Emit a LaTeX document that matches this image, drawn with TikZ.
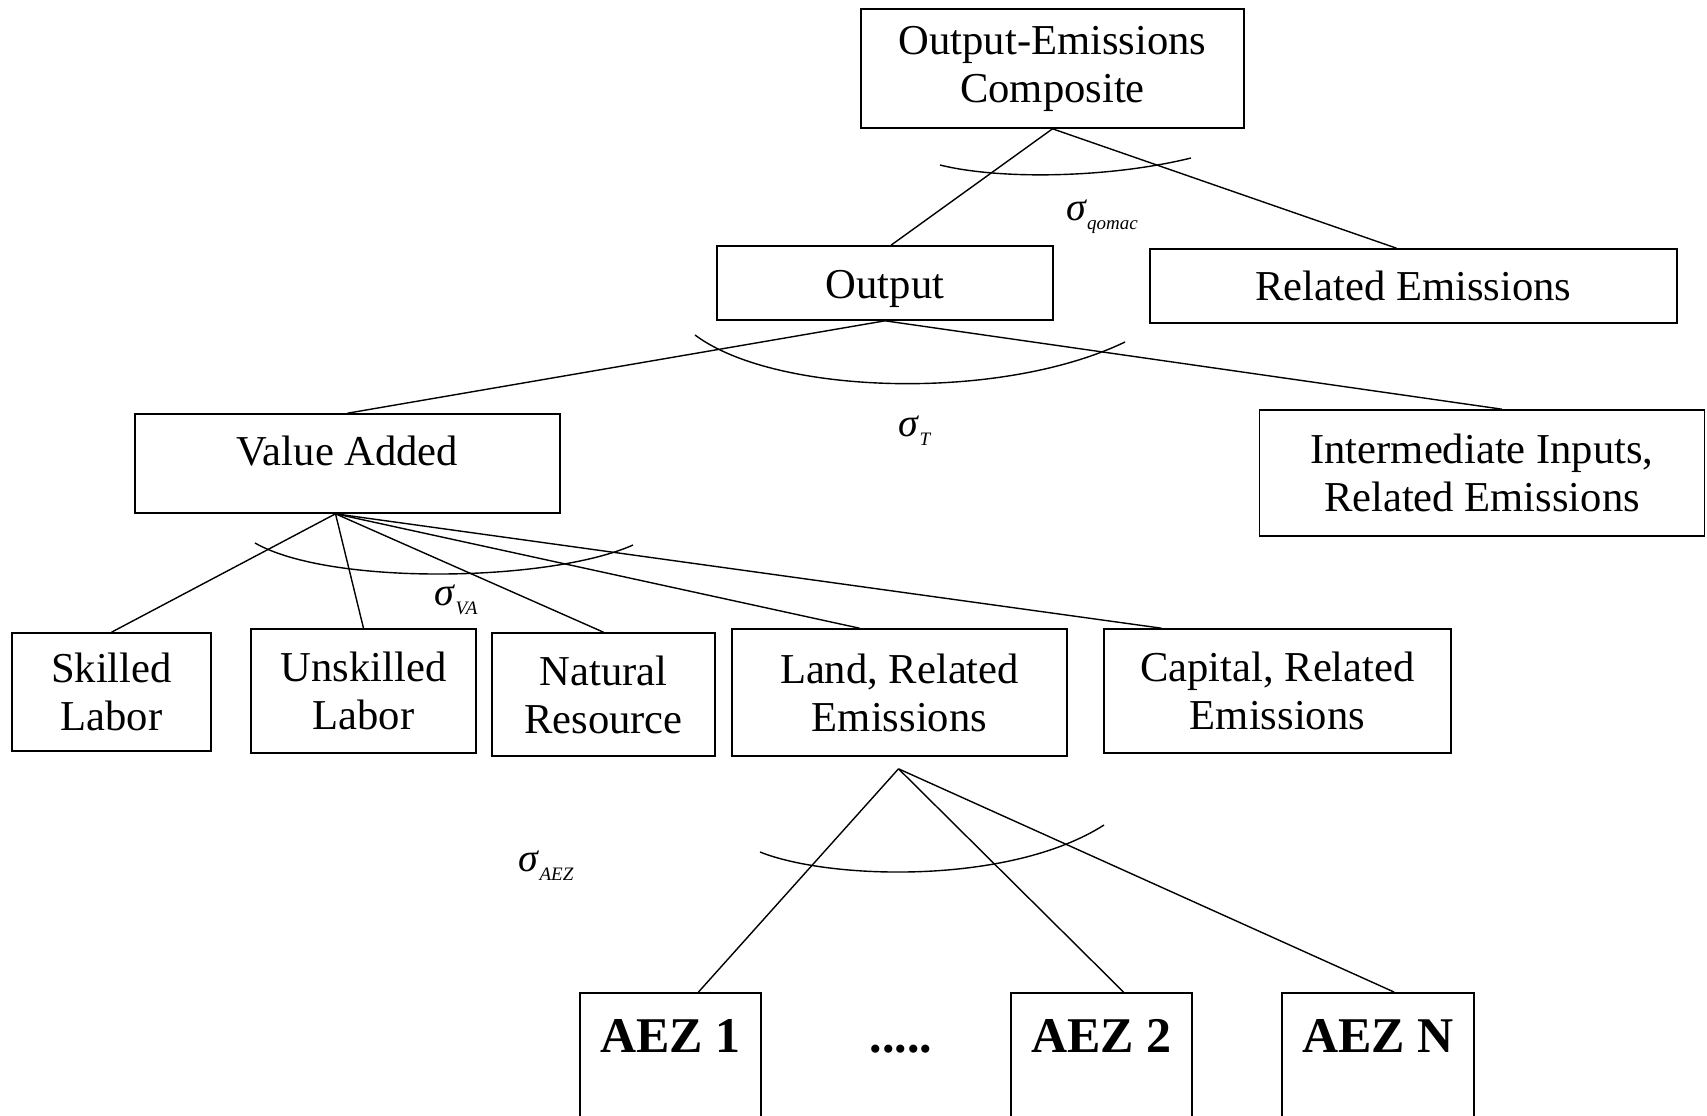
\documentclass[tikz,border=0pt]{standalone}
\usepackage{fontspec}
\setmainfont{Liberation Serif}
\usetikzlibrary{calc}
\newcommand{\sig}[1]{\textit{σ}\raisebox{-0.5ex}{\fontsize{9.5}{9.5}\selectfont\textit{#1}}}

\begin{document}
\begin{tikzpicture}[x=0.5pt,y=-0.5pt,line width=0.7pt,
every node/.style={draw,rectangle,align=center,inner sep=0pt,line width=0.8pt,
font=\fontsize{21.3}{24}\selectfont}]
\useasboundingbox (0,0) rectangle (1707,1115);
\clip (0,0) rectangle (1707,1115);
\node[minimum width=191.5pt,minimum height=59.5pt] (OE) at (1052.5,68.5) {Output-Emissions\\Composite};
\node[minimum width=168pt,minimum height=37pt,text height=20pt,text depth=5pt] (Out) at (885,283) {Output};
\node[minimum width=263.5pt,minimum height=37pt] (RE) at (1413.5,286) {Related Emissions};
\node[minimum width=212.5pt,minimum height=49.5pt,text height=15pt,text depth=13.5pt] (VA) at (347.5,463.5) {Value Added};
\node[minimum width=222.5pt,minimum height=63pt] (II) at (1482,473) {Intermediate Inputs,\\Related Emissions};
\node[minimum width=99.5pt,minimum height=59pt] (SL) at (111.5,692) {Skilled\\Labor};
\node[minimum width=112.5pt,minimum height=62pt] (UL) at (363.5,691) {Unskilled\\Labor};
\node[minimum width=111.5pt,minimum height=61.5pt] (NR) at (603.5,694.5) {Natural\\Resource};
\node[minimum width=167.5pt,minimum height=63.5pt] (LR) at (899.5,692.5) {Land, Related\\Emissions};
\node[minimum width=173.5pt,minimum height=62pt] (CR) at (1277.5,691) {Capital, Related\\Emissions};
\node[anchor=north,minimum width=90.5pt,text height=30pt,text depth=39pt,
font=\fontsize{25}{28}\selectfont\bfseries] (Z1) at (670.5,992) {AEZ 1};
\node[anchor=north,minimum width=90.5pt,text height=30pt,text depth=39pt,
font=\fontsize{25}{28}\selectfont\bfseries] (Z2) at (1101.5,992) {AEZ 2};
\node[anchor=north,minimum width=96pt,text height=30pt,text depth=39pt,
font=\fontsize{25}{28}\selectfont\bfseries] (ZN) at (1378,992) {AEZ N};
\node[draw=none,anchor=base,font=\fontsize{25}{28}\selectfont\bfseries] (dots) at (901,1052) {.....};
% elasticities
\node[draw=none,font=\fontsize{20}{20}\selectfont] (sq) at (1102,217) {\sig{qomac}};
\node[draw=none,font=\fontsize{20}{20}\selectfont] (st) at (915,431) {\sig{T}};
\node[draw=none,font=\fontsize{20}{20}\selectfont] (sva) at (456,600) {\sig{VA}};
\node[draw=none,font=\fontsize{20}{20}\selectfont] (saez) at (546,866) {\sig{AEZ}};
\coordinate (va) at ($(VA.south)+(-12,0)$);
\coordinate (lr) at ($(LR.south)+(-1,12)$);
\draw (OE.south)--($(Out.north)+(6,0)$);
\draw (OE.south)--($(RE.north)+(-17,0)$);
\draw (Out.south)--(VA.north);
\draw (Out.south)--($(II.north)+(20,0)$);
\draw (va)--(SL.north);
\draw (va)--(UL.north);
\draw (va)--(NR.north);
\draw (va)--($(LR.north)+(-40,0)$);
\draw (va)--($(CR.north)+(-116,0)$);
\draw (lr)--($(Z1.north)+(28,0)$);
\draw (lr)--($(Z2.north)+(22,0)$);
\draw (lr)--($(ZN.north)+(16,0)$);
\draw (940,165) .. controls (1000,180) and (1110,178) .. (1191,158);
\draw (695,335) .. controls (775,395) and (1000,402) .. (1125,342);
\draw (255,543) .. controls (330,586) and (550,582) .. (633,545);
\draw (760,852) .. controls (830,880) and (1010,885) .. (1104,825);
\end{tikzpicture}
\end{document}
